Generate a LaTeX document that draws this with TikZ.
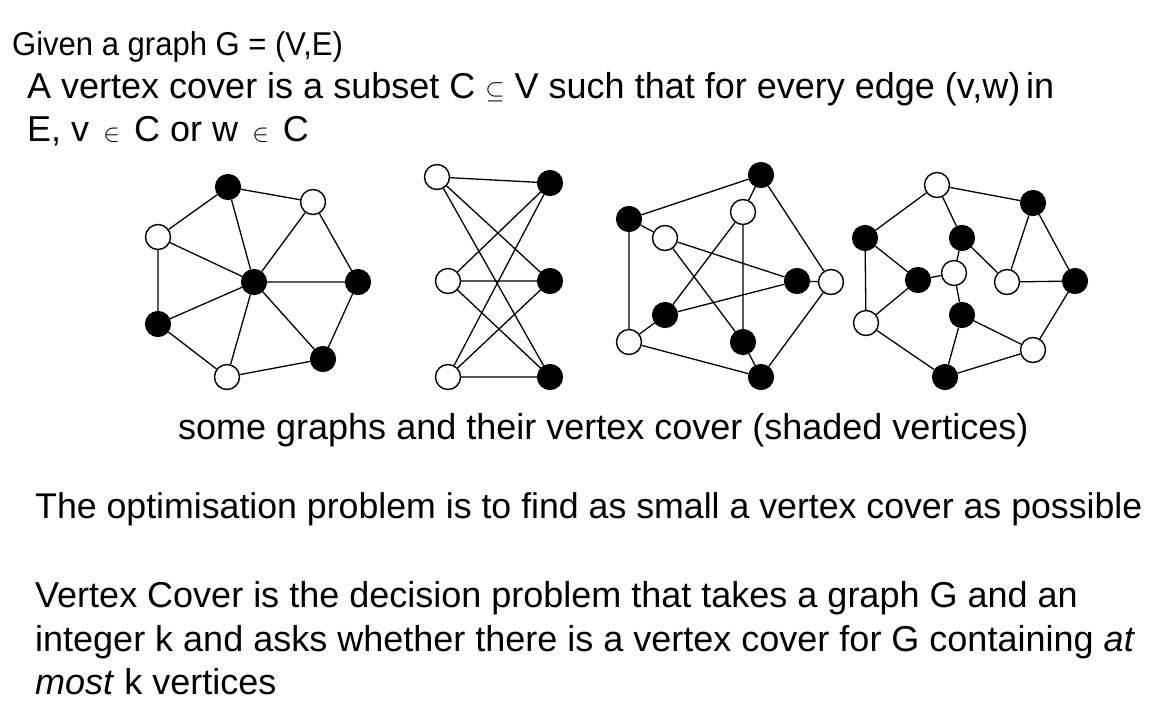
\documentclass[tikz,border=0pt]{standalone}
\usepackage{fontspec}
\setmainfont{Liberation Sans}
\usepackage{tikz}

\begin{document}
\begin{tikzpicture}[x=1pt, y=-1pt,
    cover/.style={circle, draw, fill=black, line width=1.2pt, minimum size=25pt, inner sep=0pt},
    free/.style={circle, draw, fill=white, line width=1.4pt, minimum size=25pt, inner sep=0pt},
    edge/.style={line width=1.3pt},
    txt/.style={anchor=base west, inner sep=0pt, font=\fontsize{36}{42}\selectfont}
]
\fill[white] (0,0) rectangle (1159,716);
\useasboundingbox (0,0) rectangle (1159,716);

% text above the graphs
\node[txt, font=\fontsize{33}{38}\selectfont] (given) at (12,55) {\scalebox{0.94}[1]{Given a graph G = (V,E)}};
\node[txt] (defa) at (27,98) {A vertex cover is a subset C $\subseteq$ V such that for every edge (v,w)\,in};
\node[txt] (defb) at (27,141) {E, v $\,\in\,$ C or w $\,\in\,$ C};

% graph 1
\node[cover] (a1) at (228,187) {};
\node[free] (b1) at (313,202) {};
\node[free] (c1) at (158,237) {};
\node[cover] (d1) at (254,282) {};
\node[cover] (e1) at (358,282) {};
\node[cover] (f1) at (158,324) {};
\node[free] (g1) at (227,377) {};
\node[cover] (h1) at (323,359) {};
\draw[edge] (a1) -- (b1) (a1) -- (c1) (a1) -- (d1) (b1) -- (d1) (b1) -- (e1)
    (c1) -- (d1) (c1) -- (f1) (d1) -- (e1) (d1) -- (f1) (d1) -- (g1)
    (d1) -- (h1) (f1) -- (g1) (g1) -- (h1) (e1) -- (h1);

% graph 2
\node[free] (l1) at (437,177) {};
\node[free] (l2) at (448,281) {};
\node[free] (l3) at (448,377) {};
\node[cover] (r1) at (550,183) {};
\node[cover] (r2) at (550,281) {};
\node[cover] (r3) at (550,377) {};
\draw[edge] (l1) -- (r1) (l1) -- (r2) (l1) -- (r3)
    (l2) -- (r1) (l2) -- (r2) (l2) -- (r3)
    (l3) -- (r1) (l3) -- (r2) (l3) -- (r3);

% graph 3
\node[cover] (a3) at (761,175) {};
\node[cover] (b3) at (629,219) {};
\node[free] (c3) at (665,238) {};
\node[free] (d3) at (743,212) {};
\node[cover] (e3) at (797,281) {};
\node[free] (f3) at (831,282) {};
\node[cover] (g3) at (665,315) {};
\node[free] (h3) at (629,342) {};
\node[cover] (i3) at (743,342) {};
\node[cover] (j3) at (761,377) {};
\draw[edge] (a3) -- (b3) (b3) -- (h3) (h3) -- (j3) (j3) -- (f3) (f3) -- (a3)
    (b3) -- (c3) (a3) -- (d3) (f3) -- (e3) (j3) -- (i3) (h3) -- (g3)
    (c3) -- (e3) (c3) -- (i3) (d3) -- (g3) (d3) -- (i3) (g3) -- (e3);

% graph 4
\node[free] (p4) at (937,185) {};
\node[cover] (q4) at (1033,203) {};
\node[cover] (r4) at (865,238) {};
\node[cover] (s4) at (962,238) {};
\node[free] (t4) at (954,273) {};
\node[cover] (u4) at (918,280) {};
\node[free] (v4) at (1007,282) {};
\node[cover] (w4) at (1075,281) {};
\node[free] (x4) at (866,323) {};
\node[cover] (y4) at (962,315) {};
\node[free] (z4) at (1033,350) {};
\node[cover] (o4) at (945,377) {};
\draw[edge] (p4) -- (r4) (p4) -- (s4) (p4) -- (q4) (q4) -- (v4) (q4) -- (w4)
    (v4) -- (w4) (s4) -- (v4) (s4) -- (t4) (r4) -- (u4) (r4) -- (x4)
    (u4) -- (t4) (u4) -- (x4) (t4) -- (y4) (y4) -- (z4) (y4) -- (o4)
    (x4) -- (o4) (o4) -- (z4) (z4) -- (w4);

% caption and text below
\node[txt] (caption) at (178,439) {some graphs and their vertex cover (shaded vertices)};
\node[txt, font=\fontsize{35.7}{42}\selectfont] (optim) at (35,518) {The optimisation problem is to find as small a vertex cover as possible};
\node[txt] (decia) at (35,607) {Vertex Cover is the decision problem that takes a graph G and an};
\node[txt] (decib) at (35,651) {integer k and asks whether there is a vertex cover for G containing \textit{at}};
\node[txt] (decic) at (35,694) {\textit{most} k vertices};
\end{tikzpicture}
\end{document}
